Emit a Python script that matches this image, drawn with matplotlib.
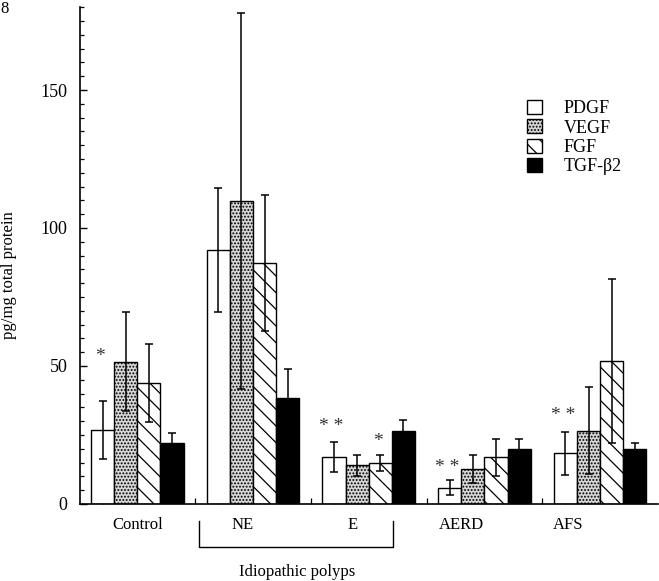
import numpy as np
import matplotlib
matplotlib.use('Agg')
from matplotlib import pyplot as plt
from matplotlib.ticker import MultipleLocator, FixedLocator

plt.rcParams['font.family'] = ['Liberation Serif', 'DejaVu Serif']
plt.rcParams['hatch.linewidth'] = 0.9

groups = ['Control', 'NE', 'E', 'AERD', 'AFS']
group_label_x = [0.40, 1.31, 2.26, 3.20, 4.12]
series = ['PDGF', 'VEGF', 'FGF', 'TGF-β2']

pdgf = [26.8, 92.0, 17.1, 5.9, 18.4]
pdgf_err = [10.5, 22.5, 5.5, 2.8, 7.8]
vegf = [51.6, 109.8, 14.1, 12.7, 26.6]
vegf_err = [18.0, 68.0, 3.8, 5.2, 15.7]
fgf = [43.8, 87.3, 15.0, 16.9, 51.8]
fgf_err = [14.0, 24.7, 2.9, 6.6, 29.7]
tgf = [22.2, 38.5, 26.6, 19.9, 19.9]
tgf_err = [3.6, 10.3, 3.8, 3.6, 2.3]

# significance marks: (group index, series index, text, y)
star_group = [0, 2, 2, 3, 4]
star_series = [0, 0, 2, 0, 0]
star_text = ['*', '* *', '*', '* *', '* *']
star_y = [53.5, 28.0, 22.8, 13.3, 32.1]

values = [pdgf, vegf, fgf, tgf]
errors = [pdgf_err, vegf_err, fgf_err, tgf_err]
faces = ['white', '#d6d6d6', 'white', 'black']
hatches = [None, '.....', '\\\\', None]

w = 0.2
x = np.arange(len(groups))

fig = plt.figure(figsize=(6.59, 5.81), dpi=100)
ax = fig.add_axes([80 / 659, 77 / 581, 578 / 659, 496.8 / 581])

for j in range(4):
    ax.bar(x + j * w, values[j], w, align='edge', color=faces[j],
           edgecolor='black', linewidth=1.0, hatch=hatches[j],
           label=series[j], zorder=2)
    ax.errorbar(x + j * w + w / 2, values[j], yerr=errors[j], fmt='none',
                ecolor='black', elinewidth=1.1, capsize=3, capthick=1.1,
                zorder=3)

for g, s, t, yv in zip(star_group, star_series, star_text, star_y):
    ax.text(g + s * w + w / 2 - 0.02, yv, t, ha='center', va='center',
            fontsize=14, color='#333333')

ax.set_xlim(-0.095, 4.9)
ax.set_ylim(0, 180)
ax.spines['top'].set_visible(False)
ax.spines['right'].set_visible(False)
ax.spines['left'].set_linewidth(1.2)
ax.spines['bottom'].set_linewidth(1.2)

ax.yaxis.set_major_locator(MultipleLocator(50))
ax.yaxis.set_minor_locator(MultipleLocator(5))
ax.tick_params(axis='y', which='major', direction='in', length=5,
               width=1.0, labelsize=13, pad=9)
ax.tick_params(axis='y', which='minor', direction='in', length=3, width=0.9)

sep = [i + 0.9 for i in range(4)]
centers = [i + j * w + w / 2 for i in range(5) for j in range(3)]
ax.xaxis.set_major_locator(FixedLocator(sep))
ax.xaxis.set_minor_locator(FixedLocator(centers))
ax.set_xticklabels([])
ax.tick_params(axis='x', which='major', direction='in', length=4, width=0.9)
ax.tick_params(axis='x', which='minor', direction='in', length=3, width=0.8)

for gx, name in zip(group_label_x, groups):
    ax.text(gx, -0.043, name, transform=ax.get_xaxis_transform(),
            ha='center', va='center', fontsize=12)

# bracket for idiopathic polyps
ax.plot([0.933, 0.933, 2.609, 2.609], [-0.034, -0.086, -0.086, -0.034],
        transform=ax.get_xaxis_transform(), color='black', lw=1.0,
        clip_on=False)
ax.text(1.78, -0.137, 'Idiopathic polyps', transform=ax.get_xaxis_transform(),
        ha='center', va='center', fontsize=12)

ax.set_ylabel('pg/mg total protein', fontsize=12)
ax.yaxis.set_label_coords(-0.109, 0.461)

ax.legend(loc='upper left', bbox_to_anchor=((527 - 80) / 578, (504 - 100) / 496.8),
          frameon=False, fontsize=13, handlelength=0.85, handleheight=0.8,
          handletextpad=1.2, labelspacing=0.12, borderpad=0, borderaxespad=0)

fig.text(0.0, 0.985, '8', fontsize=12, va='center', ha='left')

fig.savefig('out.png', dpi=100)
